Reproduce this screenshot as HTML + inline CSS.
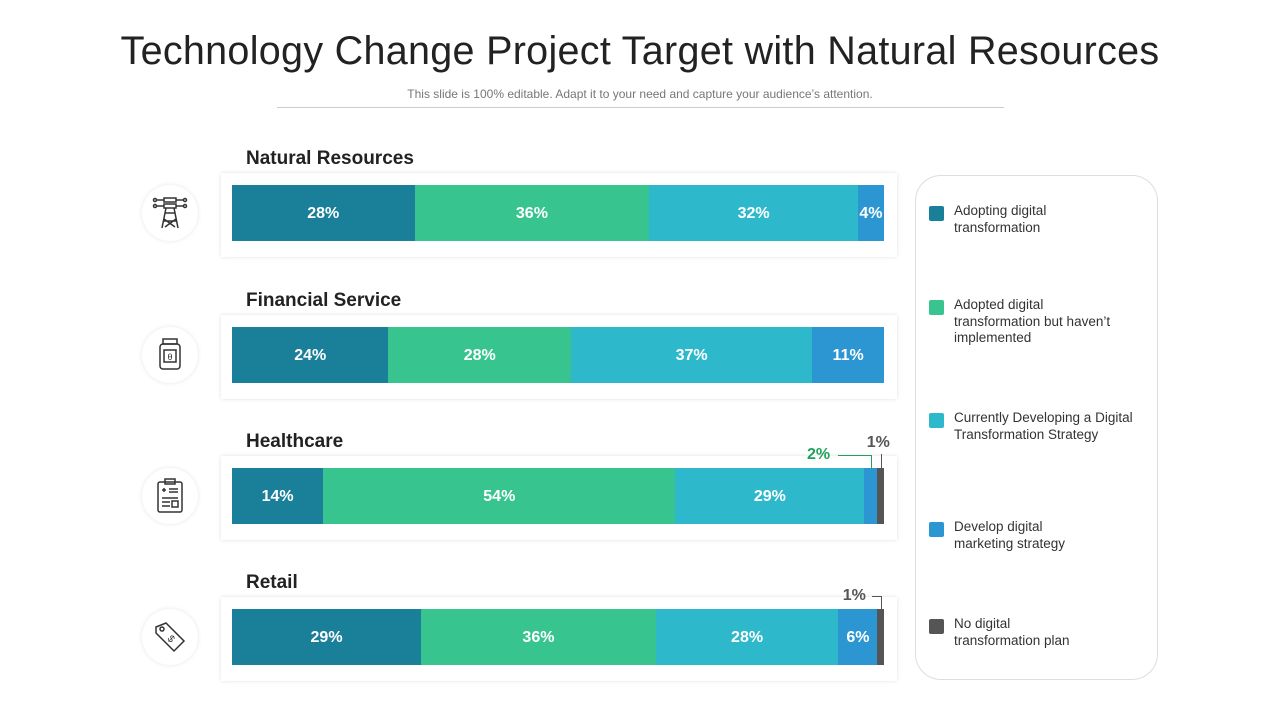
<!DOCTYPE html>
<html><head><meta charset="utf-8">
<style>
body{margin:0;width:1280px;height:720px;background:#fff;font-family:"Liberation Sans",sans-serif;position:relative;overflow:hidden}
.abs{position:absolute}
h1{position:absolute;left:0;width:1280px;top:29px;margin:0;text-align:center;font-weight:normal;font-size:39.5px;color:#222;letter-spacing:0.3px}
.sub{left:0;width:1280px;top:87px;text-align:center;font-size:12px;color:#777}
.rule{left:277px;width:727px;top:107px;height:1px;background:#ccc}
.card{background:#fff;box-shadow:0 0 4px rgba(0,0,0,0.12)}
.rt{font-size:19px;font-weight:bold;color:#222}
.seg{position:absolute;color:#fff;font-weight:bold;font-size:16px;display:flex;align-items:center;justify-content:center;padding-top:2px;box-sizing:border-box}
.icon{width:56px;height:56px;border-radius:50%;background:#fff;box-shadow:0 0 5px rgba(0,0,0,0.1);display:flex;align-items:center;justify-content:center}
.legend{left:915px;top:175px;width:243px;height:505px;border:1px solid #ddd;border-radius:26px;box-sizing:border-box}
.li{position:absolute;left:13px;font-size:13.5px;color:#333;line-height:16.5px}
.sw{position:absolute;left:0;top:3px;width:15px;height:15px;border-radius:2px}
.li span{display:block;margin-left:25px}
</style></head><body>
<h1>Technology Change Project Target with Natural Resources</h1>
<div class="abs sub">This slide is 100% editable. Adapt it to your need and capture your audience’s attention.</div>
<div class="abs rule"></div>
<div id="chart"></div>
<div class="abs legend" id="legend"></div>
<script>
const categories=["Natural Resources","Financial Service","Healthcare","Retail"];
const seriesNames=["Adopting digital\ntransformation","Adopted digital\ntransformation but haven’t\nimplemented","Currently Developing a Digital\nTransformation Strategy","Develop digital\nmarketing strategy","No digital\ntransformation plan"];
const adopting=[28,24,14,29];
const adopted=[36,28,54,36];
const developing=[32,37,29,28];
const marketing=[4,11,2,6];
const noPlan=[0,0,1,1];
const colors=["#1a7f99","#38c48f","#2eb8cc","#2b96d1","#555555"];
const series=[adopting,adopted,developing,marketing,noPlan];
const X0=232,W=652,rowTop=[185,327,468,609],BH=56;
const xs=v=>v/100*W;
const chart=document.getElementById('chart');
const icons=[
'<svg width="40" height="40" viewBox="0 0 40 40" fill="none" stroke="#333" stroke-width="1.5"><rect x="14" y="5" width="12" height="4"/><rect x="14" y="11" width="12" height="4"/><path d="M6 7h8M26 7h8M6 13h8M26 13h8M16 15l-4 20M24 15l4 20M15 20h10M14 26l11 8M26 26l-11 8M13 28h14"/><circle cx="5" cy="7" r="1.5"/><circle cx="35" cy="7" r="1.5"/><circle cx="5" cy="13" r="1.5"/><circle cx="35" cy="13" r="1.5"/></svg>',
'<svg width="40" height="40" viewBox="0 0 40 40" fill="none" stroke="#333" stroke-width="1.5"><rect x="13" y="4" width="14" height="5"/><rect x="10" y="9" width="20" height="25" rx="3"/><rect x="14" y="15" width="12" height="12"/><text x="20" y="25" font-size="9" text-anchor="middle" fill="#333" stroke="none">θ</text></svg>',
'<svg width="40" height="40" viewBox="0 0 40 40" fill="none" stroke="#333" stroke-width="1.5"><rect x="8" y="6" width="24" height="30" rx="2"/><rect x="15" y="3" width="10" height="5"/><path d="M12 14h4M14 12v4M19 13h9M19 16h9M12 22h16M12 26h8M12 30h8"/><rect x="22" y="25" width="6" height="6"/></svg>',
'<svg width="40" height="40" viewBox="0 0 40 40" fill="none" stroke="#333" stroke-width="1.5"><path d="M6 10l10-4 18 18-10 10L6 16z"/><circle cx="12" cy="12" r="2"/><text x="21" y="25" font-size="10" text-anchor="middle" fill="#333" stroke="none" transform="rotate(45 21 22)">$</text></svg>'];
categories.forEach((c,i)=>{
  const top=rowTop[i];
  const card=document.createElement('div');
  card.className='abs card';
  
  
  card.style.cssText=`left:221px;top:${top-12}px;width:676px;height:${BH+28}px`;
  chart.appendChild(card);
  const t=document.createElement('div');
  t.className='abs rt';t.textContent=c;
  
  
  t.style.cssText=`left:246px;top:${top-37}px`;
  chart.appendChild(t);
  const ic=document.createElement('div');
  ic.className='abs icon';ic.innerHTML=icons[i];
  
  
  ic.style.cssText=`left:142px;top:${top}px`;
  chart.appendChild(ic);
  let acc=0;
  series.forEach((s,k)=>{
    const v=s[i]; if(!v) return;
    const d=document.createElement('div');
    d.className='seg';
    
    
    d.style.cssText=`left:${X0+xs(acc)}px;top:${top}px;width:${xs(v)}px;height:${BH}px;background:${colors[k]}`;
    if(v>=3) d.textContent=v+'%';
    chart.appendChild(d);
    if(v<3){
      const l=document.createElement('div');
      l.className='abs';
      
      
      const cx=X0+xs(acc+v/2);
      if(k===3){
        l.style.cssText=`left:${cx-64}px;top:${top-22}px;font-size:16px;font-weight:bold;color:#1fa35c`;
        l.textContent=v+'%';
        const ln=document.createElement('div');ln.className='abs';
        
        
        ln.style.cssText=`left:${cx-33}px;top:${top-13}px;width:33px;height:13px;border-top:1px solid #1fa35c;border-right:1px solid #1fa35c`;
        chart.appendChild(ln);
      } else {
        const hc=i===2;
        l.style.cssText=`left:${hc?cx-14:cx-38}px;top:${hc?top-34:top-22}px;font-size:16px;font-weight:bold;color:#555`;
        l.textContent=v+'%';
        const ln=document.createElement('div');ln.className='abs';
        
        
        ln.style.cssText=hc?`left:${cx}px;top:${top-14}px;width:1px;height:14px;background:#555`:`left:${cx-9}px;top:${top-13}px;width:9px;height:13px;border-top:1px solid #555;border-right:1px solid #555`;
        chart.appendChild(ln);
      }
      chart.appendChild(l);
    }
    acc+=v;
  });
});
const lg=document.getElementById('legend');
const ly=[27,121,234,343,440];
seriesNames.forEach((n,k)=>{
  const li=document.createElement('div');li.className='li';
  
  
  li.style.top=ly[k]+'px';
  li.innerHTML=`<div class="sw" style="background:${colors[k]}"></div><span>${n.replace(/\n/g,'<br>')}</span>`;
  lg.appendChild(li);
});
</script>
</body></html>
